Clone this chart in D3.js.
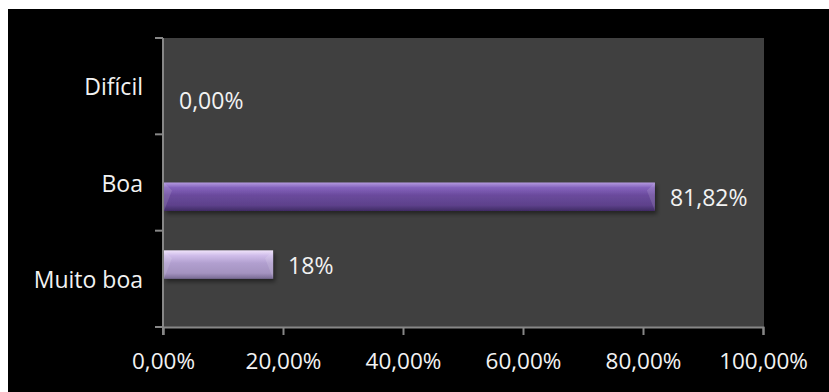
<!DOCTYPE html>
<html>
<head>
<meta charset="utf-8">
<script src="https://cdn.jsdelivr.net/npm/d3@7"></script>
<style>
    body { margin: 0; background: #fff; }
    svg text { font-family: "Open Sans", sans-serif; fill: #f2f2f2; }
</style>
</head>
<body>
<div id="chart"></div>
<script>
// Dati del grafico
const categories = ["Difícil", "Boa", "Muito boa"];
const seriesNames = ["Série 2", "Série 1"];
const serie1 = [0, 81.82, null];
const serie2 = [null, null, 18.18];
const labels1 = ["0,00%", "81,82%", null];
const labels2 = [null, null, "18%"];
const xTicks = [0, 20, 40, 60, 80, 100];

const margin = { top: 38, right: 66, bottom: 65, left: 163 };
const W = 829, H = 392;
const width = W - margin.left - margin.right;
const height = H - margin.top - margin.bottom;

const svg = d3.select("#chart")
    .append("svg")
    .attr("width", W)
    .attr("height", H);

// Gradients for bars
const defs = svg.append("defs");
const grads = {
    s1: ["#b49ae0", "#8463bd", "#6a4a9c", "#5d418b", "#3f2a63"],
    s2: ["#f0e4fb", "#d0bdea", "#b19fcf", "#a493c0", "#786a93"]
};
Object.keys(grads).forEach(k => {
    const g = defs.append("linearGradient")
        .attr("id", "grad-" + k)
        .attr("x1", 0).attr("x2", 0).attr("y1", 0).attr("y2", 1);
    const stops = [0, 0.18, 0.45, 0.8, 1];
    grads[k].forEach((c, j) => g.append("stop").attr("offset", stops[j]).attr("stop-color", c));
});
const shadow = defs.append("filter").attr("id", "shadow")
    .attr("x", "-10%").attr("y", "-20%").attr("width", "130%").attr("height", "160%");
shadow.append("feDropShadow")
    .attr("dx", 2).attr("dy", 3).attr("stdDeviation", 2)
    .attr("flood-color", "#000").attr("flood-opacity", 0.45);

// Background
svg.append("rect")
    .attr("x", 8).attr("y", 9)
    .attr("width", W - 8).attr("height", H - 9)
    .attr("fill", "#000");

const chart = svg.append("g")
    .attr("transform", `translate(${margin.left},${margin.top})`);

chart.append("rect")
    .attr("width", width + 1)
    .attr("height", height)
    .attr("fill", "#404040");

// Scales
const x = d3.scaleLinear().domain([0, 100]).range([0, width]);
const y = d3.scaleBand().domain(categories).range([0, height]);
const ys = d3.scaleBand().domain(seriesNames).range([0, y.bandwidth()]).paddingOuter(0.69);

const locale = d3.formatLocale({ decimal: ",", thousands: ".", grouping: [3], currency: ["R$", ""] });
const fmt = locale.format(".2f");

// X axis
const xAxis = chart.append("g")
    .attr("transform", `translate(0,${height})`)
    .call(d3.axisBottom(x).tickValues(xTicks).tickSize(8).tickPadding(18).tickFormat(d => fmt(d) + "%"));
xAxis.selectAll("line, path").attr("stroke", "#878787").attr("stroke-width", 2);
xAxis.selectAll("text").attr("font-size", 22.5).attr("fill", "#f2f2f2");

// Y axis: line with ticks at band edges
const yAxis = chart.append("g");
yAxis.append("line")
    .attr("x1", 0).attr("x2", 0).attr("y1", 0).attr("y2", height + 8)
    .attr("stroke", "#878787").attr("stroke-width", 2);
const edges = categories.map(c => y(c)).concat([y.range()[1]]);
yAxis.selectAll(".edge")
    .data(edges)
    .join("line")
    .attr("x1", -8).attr("x2", 0)
    .attr("y1", d => d).attr("y2", d => d)
    .attr("stroke", "#878787").attr("stroke-width", 2);
yAxis.selectAll(".cat")
    .data(categories)
    .join("text")
    .attr("x", -20)
    .attr("y", d => y(d) + y.bandwidth() / 2)
    .attr("text-anchor", "end")
    .attr("dominant-baseline", "central")
    .attr("font-size", 23)
    .text(d => d);

// Bars
const bars = [];
categories.forEach((c, i) => {
    if (serie1[i] !== null) bars.push({ cat: c, s: "Série 1", key: "s1", v: serie1[i], label: labels1[i] });
    if (serie2[i] !== null) bars.push({ cat: c, s: "Série 2", key: "s2", v: serie2[i], label: labels2[i] });
});

const barG = chart.append("g").attr("transform", "translate(1,0)");
barG.selectAll("rect")
    .data(bars.filter(d => d.v > 0))
    .join("rect")
    .attr("x", 0)
    .attr("y", d => y(d.cat) + ys(d.s))
    .attr("width", d => x(d.v))
    .attr("height", ys.bandwidth())
    .attr("fill", d => `url(#grad-${d.key})`)
    .attr("filter", "url(#shadow)");

// Bevel highlight on the ends
barG.selectAll(".bevel")
    .data(bars.filter(d => d.v > 0))
    .join("path")
    .attr("d", d => {
        const y0 = y(d.cat) + ys(d.s), h = ys.bandwidth(), x1 = x(d.v);
        return `M0,${y0} L8,${y0 + 8} L0,${y0 + h} Z M${x1},${y0} L${x1 - 8},${y0 + 8} L${x1},${y0 + h} Z`;
    })
    .attr("fill", "#fff")
    .attr("fill-opacity", 0.12);

// Labels
chart.append("g").selectAll("text")
    .data(bars)
    .join("text")
    .attr("x", d => x(d.v) + 16)
    .attr("y", d => y(d.cat) + ys(d.s) + ys.bandwidth() / 2)
    .attr("dominant-baseline", "central")
    .attr("font-size", 23)
    .text(d => d.label);
</script>
</body>
</html>
